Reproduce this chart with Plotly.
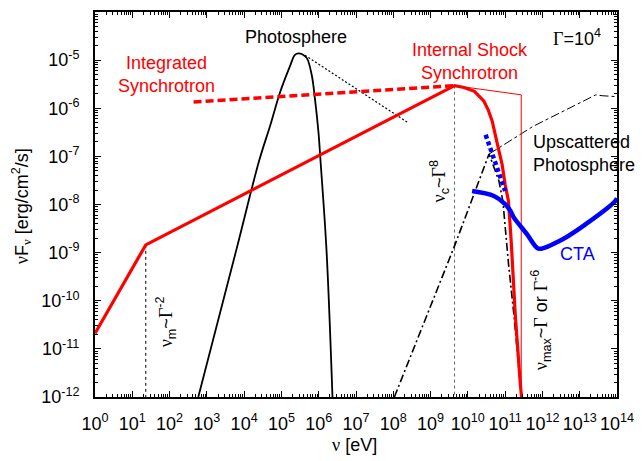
import numpy as np
import plotly.graph_objects as go

# ---- data (nu in eV, nuFnu in erg/cm^2/s) ----
sync_nu = [1, 23, 4.4e9, 7.9e9, 1.5e10, 2.7e10, 3.5e10, 4.5e10, 6.0e10, 8.3e10, 1.0e11,
           1.23e11, 1.45e11, 1.86e11, 2.5e11, 2.75e11]
sync_f = [2.1e-11, 1.45e-9, 2.95e-6, 2.7e-6, 2.25e-6, 1.4e-6, 9.3e-7, 5.4e-7, 2.0e-7, 6.8e-8,
          2.6e-8, 1.17e-8, 1.78e-9, 5.5e-11, 2.3e-12, 1e-12]

sync_thin_nu = [4.4e9, 2.7e11, 2.7e11]
sync_thin_f = [2.95e-6, 1.9e-6, 1e-12]

integ_nu = [4.4e2, 4.4e9]
integ_f = [1.35e-6, 2.95e-6]

photo_nu = [589, 6.1e3, 2.5e4, 5.1e4, 9.3e4, 1.74e5, 2.3e5, 2.9e5, 3.6e5, 4.8e5,
            6.5e5, 7.9e5, 9.8e5, 1.12e6, 1.62e6, 2.34e6]
photo_f = [1e-12, 1.1e-9, 7.9e-8, 4.6e-7, 2.2e-6, 7.9e-6, 1.29e-5, 1.38e-5, 1.32e-5,
           1.1e-5, 4.9e-6, 1.6e-6, 3.3e-7, 7.9e-8, 1.1e-9, 1e-12]

photo_tail_nu = [4.3e5, 2.6e8]
photo_tail_f = [1.26e-5, 4.9e-7]

ups_nu = [1.07e8, 4.4e9, 3.7e10, 6.8e10, 8.7e10, 1.23e11, 1.7e11, 2.3e11, 2.75e11]
ups_f = [1e-12, 1.38e-9, 1.12e-7, 3.1e-8, 1.17e-8, 5.9e-10, 5.5e-11, 5.1e-12, 1e-12]

ups_thin_nu = [3.7e10, 5.6e11, 2.7e13, 4e13, 1e14]
ups_thin_f = [1.12e-7, 4.2e-7, 1.9e-6, 1.82e-6, 1.74e-6]

cta_nu = [1.3e10, 5e10, 1e11, 1.38e11, 1.7e11, 3.8e11, 6.9e11, 8.5e11, 3.5e12,
          1.45e13, 8.9e13, 1e14]
cta_f = [1.9e-8, 1.5e-8, 1.02e-8, 7.4e-9, 5.4e-9, 2.45e-9, 1.29e-9, 1.2e-9, 1.9e-9,
         3.9e-9, 1.17e-8, 1.35e-8]

cta_dot_nu = [3e10, 1e11]
cta_dot_f = [2.8e-7, 1.9e-8]

num_nu = 23
num_f = [1.45e-9, 1e-12]
nuc_nu = 4.4e9
nuc_f = [2.95e-6, 1e-12]

x_exps = list(range(0, 15))
y_exps = list(range(-12, -3))

FONT = "Liberation Sans"
RED = "#ff0000"
BLUE = "#0000ff"

fig = go.Figure()

def add(x, y, color, width, dash="solid", shape="linear"):
    fig.add_trace(go.Scatter(x=x, y=y, mode="lines",
                             line=dict(color=color, width=width, dash=dash, shape=shape),
                             hoverinfo="skip", showlegend=False))

add([num_nu, num_nu], num_f, "black", 1, "dot")
add([nuc_nu, nuc_nu], nuc_f, "#666666", 1, "dot")
add(photo_tail_nu, photo_tail_f, "black", 1.2, "2px,2px")
add(photo_nu, photo_f, "black", 1.8, "solid", "spline")
add(ups_thin_nu, ups_thin_f, "black", 1, "dashdot")
add(ups_nu, ups_f, "black", 1.6, "8px,3px,2px,3px")
add(sync_thin_nu, sync_thin_f, RED, 1)
add(integ_nu, integ_f, RED, 3.5, "8px,4px")
add(sync_nu, sync_f, RED, 3.2, "solid", "linear")
add(cta_dot_nu, cta_dot_f, BLUE, 4.5, "4px,3px")
add(cta_nu, cta_f, BLUE, 4.5, "solid", "spline")

xminor = [m * 10.0 ** e for e in x_exps[:-1] for m in range(2, 10)]
yminor = [m * 10.0 ** e for e in y_exps[:-1] for m in range(2, 10)]

axis_common = dict(type="log", showline=True, linecolor="black", linewidth=2,
                   mirror="allticks", ticks="inside", ticklen=6, tickwidth=1.2,
                   tickcolor="black", showgrid=False, zeroline=False,
                   tickfont=dict(family=FONT, size=18, color="black"))

fig.update_xaxes(**axis_common, range=[0, 14], tickmode="array",
                 tickvals=[10.0 ** e for e in x_exps],
                 ticktext=["10<sup>%d</sup>" % e for e in x_exps],
                 minor=dict(tickmode="array", tickvals=xminor, ticks="inside",
                            ticklen=3, tickcolor="black", tickwidth=1),
                 ticklabelstandoff=9)
fig.update_yaxes(**axis_common, range=[-12, -4], tickmode="array",
                 tickvals=[10.0 ** e for e in y_exps],
                 ticktext=["10<sup>%d</sup>" % e for e in y_exps],
                 minor=dict(tickmode="array", tickvals=yminor, ticks="inside",
                            ticklen=3, tickcolor="black", tickwidth=1),
                 ticklabelstandoff=10)

G = '<span style="font-family:Liberation Serif">Γ</span>'
NU = '<span style="font-family:Liberation Serif">ν</span>'

ann = [
    dict(x=5.39, y=-4.52, text="Photosphere", color="black"),
    dict(x=1.93, y=-5.30, text="Integrated<br>Synchrotron", color=RED),
    dict(x=10.06, y=-5.03, text="Internal Shock<br>Synchrotron", color=RED),
    dict(x=12.94, y=-4.54, text=G + "=10<sup>4</sup>", color="black"),
    dict(x=12.94, y=-9.02, text="CTA", color=BLUE),
    dict(x=9.24, y=-7.53, text=NU + "<sub>c</sub>~" + G + "<sup>8</sup>", color="black", angle=-90),
    dict(x=1.90, y=-10.43, text=NU + "<sub>m</sub>~" + G + "<sup>-2</sup>", color="black", angle=-90),
    dict(x=11.94, y=-10.40, text=NU + "<sub>max</sub>~" + G + " or " + G + "<sup>-6</sup>",
         color="black", angle=-90),
]
for a in ann:
    fig.add_annotation(x=a["x"], y=a["y"], xref="x", yref="y", text=a["text"],
                       showarrow=False, textangle=a.get("angle", 0),
                       font=dict(family=FONT, size=18, color=a["color"]),
                       xanchor="center", yanchor="middle", align="center")

fig.add_annotation(x=11.70, y=-6.93, xref="x", yref="y",
                   text="Upscattered<br>Photosphere", showarrow=False,
                   font=dict(family=FONT, size=18, color="black"),
                   xanchor="left", yanchor="middle", align="left")

fig.add_annotation(x=-0.1415, y=0.496, xref="paper", yref="paper",
                   text=NU + "F<sub>" + NU + "</sub> [erg/cm<sup>2</sup>/s]",
                   showarrow=False, textangle=-90,
                   font=dict(family=FONT, size=18, color="black"),
                   xanchor="center", yanchor="middle")
fig.add_annotation(x=0.498, y=-0.124, xref="paper", yref="paper",
                   text=NU + " [eV]", showarrow=False,
                   font=dict(family=FONT, size=18, color="black"),
                   xanchor="center", yanchor="middle")

fig.update_layout(width=644, height=461, margin=dict(l=95, r=19, t=10, b=64),
                  paper_bgcolor="white", plot_bgcolor="white", showlegend=False)

fig.write_html("out.html")
